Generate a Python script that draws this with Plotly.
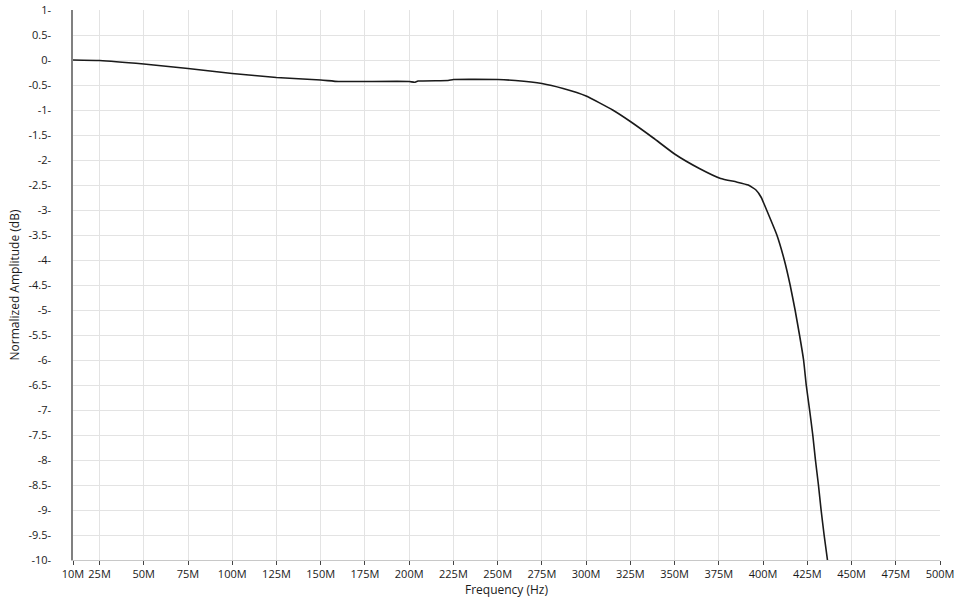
import plotly.graph_objects as go

freq_mhz = [10, 25, 50, 75, 100, 125, 150, 160, 175, 200, 203, 205, 222, 225, 250,
            260, 275, 287, 300, 315, 325, 338, 350, 364, 376, 385, 391.6, 396, 399,
            402, 407.8, 412, 415.3, 418.1, 420.6, 422.9, 424.4, 426.3, 428.1, 429.6,
            431.3, 432.8, 434.5, 436.4]
amp_db = [0, -0.01, -0.08, -0.17, -0.27, -0.35, -0.40, -0.43, -0.43, -0.43, -0.445,
          -0.42, -0.41, -0.39, -0.39, -0.41, -0.47, -0.57, -0.72, -1.0, -1.23, -1.56,
          -1.88, -2.17, -2.37, -2.44, -2.5, -2.6, -2.75, -3.0, -3.5, -4.0, -4.5, -5.0,
          -5.5, -6.0, -6.5, -7.0, -7.5, -8.0, -8.5, -9.0, -9.5, -10.0]

x_tickvals = [10, 25, 50, 75, 100, 125, 150, 175, 200, 225, 250, 275, 300, 325, 350,
              375, 400, 425, 450, 475, 500]
x_ticktext = [f"{v}M" for v in x_tickvals]

y_tickvals = [1 - 0.5 * i for i in range(23)]
y_ticktext = [("%g" % v) + "-" for v in y_tickvals]

fig = go.Figure()
fig.add_trace(go.Scatter(
    x=freq_mhz, y=amp_db, mode="lines",
    line=dict(color="#1a1a1a", width=1.6, shape="spline", smoothing=0.4),
    hoverinfo="skip", showlegend=False,
))

font_family = "Open Sans, Noto Sans, DejaVu Sans, sans-serif"

fig.update_layout(
    width=954, height=605,
    margin=dict(l=73, r=14, t=10, b=45),
    plot_bgcolor="white", paper_bgcolor="white",
    font=dict(family=font_family, size=11, color="#1a1a1a"),
    xaxis=dict(
        range=[10, 500], tickmode="array", tickvals=x_tickvals, ticktext=x_ticktext,
        showgrid=True, gridcolor="#e3e3e3", gridwidth=1,
        showline=True, linecolor="#c8c8c8", linewidth=1,
        ticks="outside", ticklen=4, tickcolor="#444444", tickwidth=1,
        zeroline=False, automargin=False, ticklabeloverflow="allow",
        title=dict(text="Frequency (Hz)", font=dict(size=12), standoff=3),
        tickfont=dict(size=11),
    ),
    yaxis=dict(
        range=[-10, 1], tickmode="array", tickvals=y_tickvals, ticktext=y_ticktext,
        showgrid=True, gridcolor="#e3e3e3", gridwidth=1,
        showline=True, linecolor="#808080", linewidth=1.5,
        ticks="", ticklabelstandoff=18,
        zeroline=False, automargin=False, ticklabeloverflow="allow",
        title=dict(text="Normalized Amplitude (dB)", font=dict(size=12), standoff=6),
        tickfont=dict(size=11),
    ),
)

# remove the browser's default 8px body margin so the figure fills the window
fig.write_html("out.html", config={"displayModeBar": False},
               post_script="document.body.style.margin='0';")
